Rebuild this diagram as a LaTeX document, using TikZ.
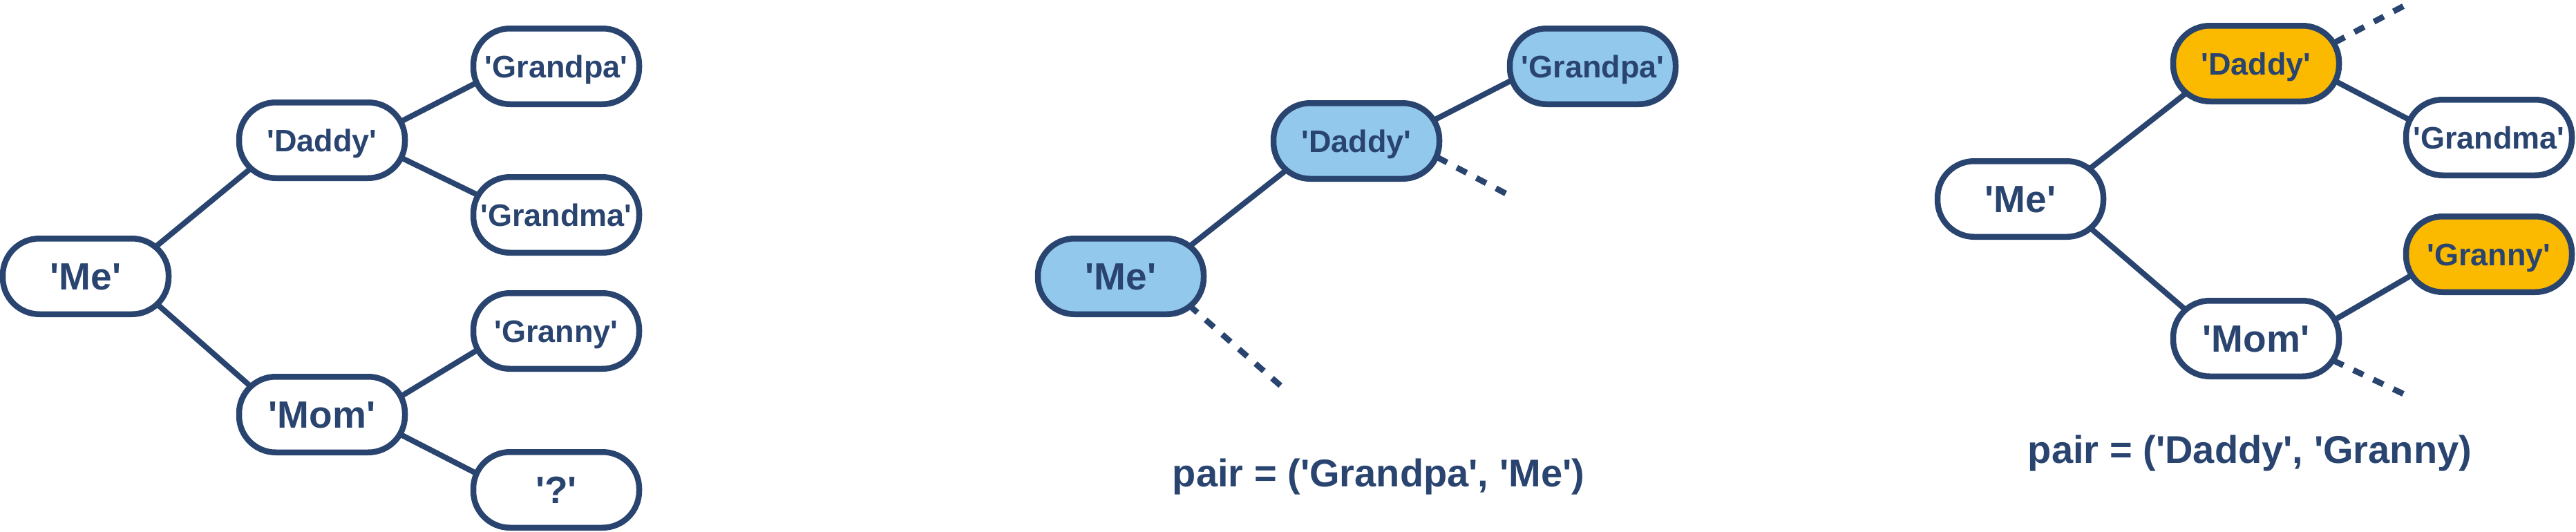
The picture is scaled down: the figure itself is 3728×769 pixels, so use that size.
\documentclass[tikz,border=0pt]{standalone}
\usepackage{fontspec}
\setmainfont{Liberation Sans}[Ligatures=TeXOff]
\usetikzlibrary{calc}
\pgfdeclarelayer{background}
\pgfsetlayers{background,main}
\definecolor{navy}{HTML}{2A4470}
\definecolor{lblue}{HTML}{92C8EC}
\definecolor{gold}{HTML}{FBBA00}
\begin{document}
\begin{tikzpicture}[x=1pt,y=-1pt,
  person/.style={draw=navy, line width=8.5pt, rounded corners=53pt, fill=white,
    minimum width=240pt, minimum height=109.5pt, inner sep=0pt, outer sep=0pt,
    text=navy, font=\bfseries\fontsize{45}{54}\selectfont, text height=32.2pt, text depth=0pt},
  big/.style={font=\bfseries\fontsize{55}{66}\selectfont, text height=39.4pt},
  hlblue/.style={fill=lblue},
  hlgold/.style={fill=gold},
  link/.style={draw=navy, line width=8pt},
  dotlink/.style={link, line width=8.5pt, dash pattern=on 16pt off 16pt},
  caption/.style={text=navy, font=\bfseries\fontsize{56}{67}\selectfont, anchor=base, inner sep=0pt}]
\useasboundingbox (0,0) rectangle (3728,769);

% left tree
\node[person,big] (me1) at (124,400) {'Me'};
\node[person] (da1) at (466,203) {'Daddy'};
\node[person,big] (mo1) at (466,600) {'Mom'};
\node[person] (gp1) at (805,96) {'Grandpa'};
\node[person] (gm1) at (805,311) {'Grandma'};
\node[person] (gn1) at (805,479) {'Granny'};
\node[person,big] (q1) at (805,709) {'?'};

% middle tree
\node[person,big,hlblue] (me2) at (1622,400) {'Me'};
\node[person,hlblue] (da2) at (1963,204) {'Daddy'};
\node[person,hlblue] (gp2) at (2305,96) {'Grandpa'};
\coordinate (e1) at (2179,280);
\coordinate (e2) at (1853,558);
\node[caption] (c1) at (1995,704) {pair = ('Grandpa', 'Me')};

% right tree
\node[person,big] (me3) at (2924,288) {'Me'};
\node[person,hlgold] (da3) at (3265,92) {'Daddy'};
\node[person,big] (mo3) at (3265,490) {'Mom'};
\node[person] (gm3) at (3602,199) {'Grandma'};
\node[person,hlgold] (gn3) at (3602,368) {'Granny'};
\coordinate (e3) at (3478,9);
\coordinate (e4) at (3478,570);
\node[caption] (c2) at (3256,670) {pair = ('Daddy', 'Granny)};

\begin{pgfonlayer}{background}
\draw[link] ($(me1)+(99,-41)$) -- ($(da1)+(-101,39)$);
\draw[link] ($(da1)+(112,-26)$) -- ($(gp1)+(-112,22)$);
\draw[link] ($(da1)+(112,24)$) -- ($(gm1)+(-110,-27)$);
\draw[link] ($(me1)+(102,39)$) -- ($(mo1)+(-99,-37)$);
\draw[link] ($(mo1)+(112,-25)$) -- ($(gn1)+(-110,25)$);
\draw[link] ($(mo1)+(112,28)$) -- ($(q1)+(-112,-22)$);

\draw[link] ($(me2)+(99,-43)$) -- ($(da2)+(-100,41)$);
\draw[link] ($(da2)+(110,-29)$) -- ($(gp2)+(-117,20)$);
\draw[dotlink] (e1) -- ($(da2)+(112,21)$);
\draw[dotlink] (e2) -- ($(me2)+(99,42)$);

\draw[link] ($(me3)+(98,-42)$) -- ($(da3)+(-99,41)$);
\draw[link] ($(da3)+(112,24)$) -- ($(gm3)+(-112,-24)$);
\draw[link] ($(me3)+(100,41)$) -- ($(mo3)+(-99,-39)$);
\draw[link] ($(mo3)+(110,-25)$) -- ($(gn3)+(-108,28)$);
\draw[dotlink] (e3) -- ($(da3)+(111,-29)$);
\draw[dotlink] (e4) -- ($(mo3)+(108,30)$);
\end{pgfonlayer}
\end{tikzpicture}
\end{document}
